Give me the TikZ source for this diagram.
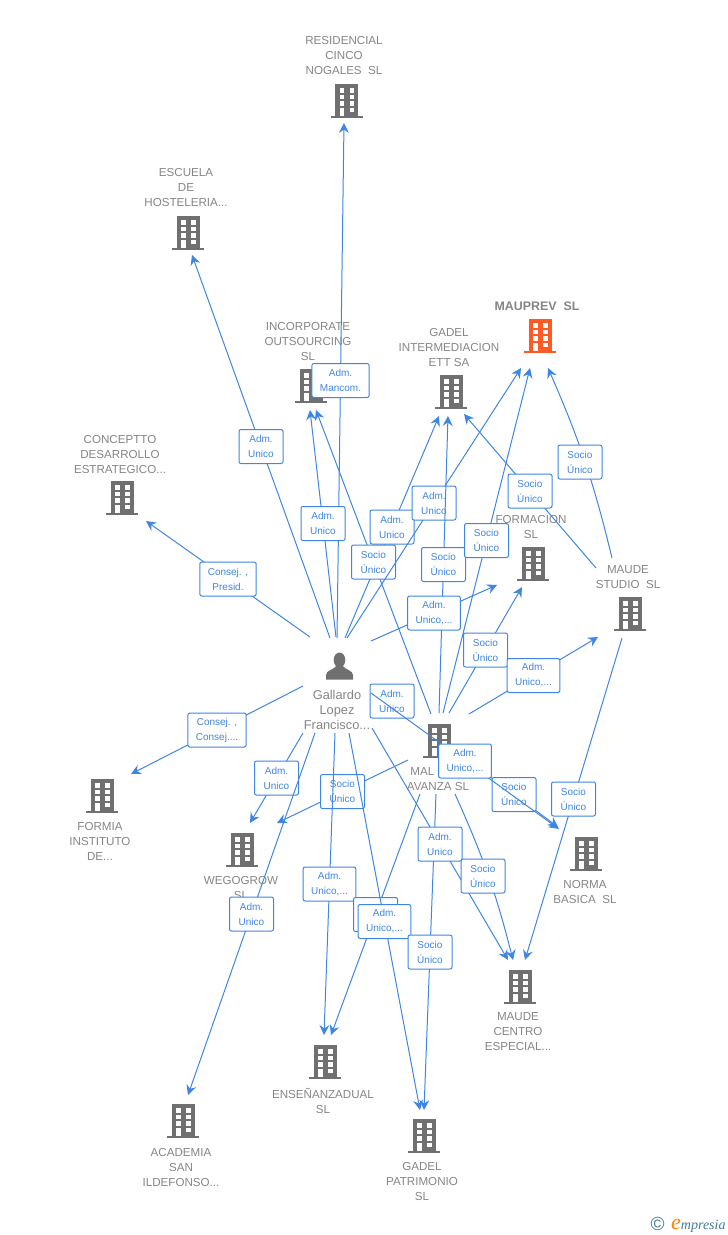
\documentclass[tikz,border=0pt]{standalone}
\usepackage{fontspec}
\setmainfont{Liberation Sans}
\newfontfamily\logofont{Liberation Serif}
\usetikzlibrary{arrows.meta}

\definecolor{linkblue}{HTML}{3F86E2}
\definecolor{bldgray}{HTML}{707070}
\definecolor{lblgray}{HTML}{858585}
\definecolor{mauorange}{HTML}{FF5A26}
\definecolor{logoblue}{HTML}{3E7C9C}

\tikzset{
  link/.style = {draw=linkblue, line width=1pt,
    -{Stealth[length=10pt,width=10pt,inset=3.5pt]}},
  plain link/.style = {draw=linkblue, line width=1pt},
  tag/.style = {draw=linkblue, fill=white, rounded corners=2pt, line width=1pt,
    text=linkblue, align=center, font=\fontsize{10}{15}\selectfont,
    minimum width=44pt, minimum height=34pt, inner xsep=8pt, inner ysep=0pt},
  lbl/.style = {text=lblgray, align=center, inner sep=0pt, yshift=-1pt,
    font=\fontsize{11.6}{15}\selectfont},
  pics/building/.default = bldgray,
  pics/building/.style = {code = {
    \fill[#1] (-11.5,-17) rectangle (11.5,14.5);
    \fill[#1] (-16,14.5) rectangle (16,17);
    \foreach \wy/\wh in {-13/4.5,-6.5/4.5,0/4.5,6.5/4.5} {
      \fill[white] (-7,\wy) rectangle (-2.5,\wy+\wh);
      \fill[white] (3,\wy) rectangle (7.5,\wy+\wh);
    }
    \fill[white] (-7,9) rectangle (-2.5,14.5);
  }},
  pics/person/.style = {code = {
    \fill[bldgray] (-0.5,-6) ellipse (5.8 and 7.5);
    \fill[bldgray] (-14,13.5) -- (-14,9) .. controls (-14,4) and (-6,4) .. (-4,0)
      -- (3,0) .. controls (5,4) and (13,4) .. (13,9) -- (13,13.5) -- cycle;
  }},
}

\begin{document}
\begin{tikzpicture}[x=1pt,y=-1pt]
  \useasboundingbox (0,0) rectangle (728,1235);

  % company names
  \node[lbl] (residencial) at (344,55) {RESIDENCIAL\\CINCO\\NOGALES\ \ SL};
  \node[lbl] (escuela) at (186,187) {ESCUELA\\DE\\HOSTELERIA...};
  \node[lbl] (incorporate) at (308,340) {INCORPORATE\\OUTSOURCING\\SL};
  \node[lbl] (gadelint) at (449,346) {GADEL\\INTERMEDIACION\\ETT SA};
  \node[lbl,font=\fontsize{12.4}{15}\selectfont\bfseries] (mauprev) at (537,305) {MAUPREV\ \ SL};
  \node[lbl] (conceptto) at (120,453) {CONCEPTTO\\DESARROLLO\\ESTRATEGICO...};
  \node[lbl] (formacion) at (531,525.5) {FORMACION\\SL};
  \node[lbl] (studio) at (628,576.5) {MAUDE\\STUDIO\ \ SL};
  \node[lbl] (avanza) at (438,777.5) {MAL\phantom{GRAT}\\AVANZA SL};
  \node[lbl] (formia) at (100,840) {FORMIA\\INSTITUTO\\DE...};
  \node[lbl] (wegogrow) at (241,886.5) {WEGOGROW\\SL};
  \node[lbl] (norma) at (585,890.5) {NORMA\\BASICA\ \ SL};
  \node[lbl] (centro) at (518,1031) {MAUDE\\CENTRO\\ESPECIAL...};
  \node[lbl] (ensenanza) at (323,1099.5) {ENSEÑANZADUAL\\SL};
  \node[lbl] (academia) at (181,1166) {ACADEMIA\\SAN\\ILDEFONSO...};
  \node[lbl] (patrimonio) at (422,1180) {GADEL\\PATRIMONIO\\SL};
  \node[lbl,font=\fontsize{12.8}{15}\selectfont] (gallardo) at (337,709) {Gallardo\\Lopez\\Francisco...};

  % icons
  \pic (icoresidencial) at (346.5,101) {building};
  \pic (icoescuela) at (188,233) {building};
  \pic (icoincorporate) at (311,386) {building};
  \pic (icogadelint) at (451,392) {building};
  \pic (icomauprev) at (540,336) {building=mauorange};
  \pic (icoconceptto) at (122,498) {building};
  \pic (icoformacion) at (533,564) {building};
  \pic (icostudio) at (630,614) {building};
  \pic (icoavanza) at (439,741) {building};
  \pic (icoformia) at (102,796) {building};
  \pic (icowegogrow) at (242,850) {building};
  \pic (iconorma) at (586,854) {building};
  \pic (icocentro) at (520,987) {building};
  \pic (icoensenanza) at (325,1062) {building};
  \pic (icoacademia) at (183,1121) {building};
  \pic (icopatrimonio) at (424,1136) {building};
  \pic (icogallardo) at (340,666) {person};

  % free ends of the links
  \coordinate (pRes) at (337,638);  \coordinate (tRes) at (344,123);
  \coordinate (pEsc) at (330,638);  \coordinate (tEsc) at (192,255);
  \coordinate (pInc) at (336,637);  \coordinate (tInc) at (310,410);
  \coordinate (mInc) at (431,714);  \coordinate (tIncB) at (316,410);
  \coordinate (pGad) at (345,638);  \coordinate (tGad) at (439,416);
  \coordinate (mGad) at (439,713);  \coordinate (tGadB) at (448,416);
  \coordinate (sGad) at (596,568);  \coordinate (tGadC) at (464,414);
  \coordinate (pMau) at (347,638);  \coordinate (tMau) at (521,368);
  \coordinate (mMau) at (443,713);  \coordinate (tMauB) at (530,368);
  \coordinate (sMau) at (612,558);  \coordinate (tMauC) at (548,368);
  \coordinate (pFor) at (371,641);  \coordinate (tFor) at (497,585);
  \coordinate (mFor) at (449,713);  \coordinate (tForB) at (522,587);
  \coordinate (mStu) at (469,714);  \coordinate (tStu) at (598,637);
  \coordinate (pCon) at (310,637);  \coordinate (tCon) at (146,521);
  \coordinate (pFrm) at (303,686);  \coordinate (tFrm) at (131,774);
  \coordinate (pWeg) at (303,733);  \coordinate (tWeg) at (250,823);
  \coordinate (mWeg) at (408,760);  \coordinate (tWegB) at (277,823);
  \coordinate (pAca) at (315,733);  \coordinate (tAca) at (188,1095);
  \coordinate (pEns) at (335,733);  \coordinate (tEns) at (324,1035);
  \coordinate (mEns) at (420,794);  \coordinate (tEnsB) at (331,1035);
  \coordinate (pPat) at (349,733);  \coordinate (tPat) at (420,1110);
  \coordinate (mPat) at (436,794);  \coordinate (tPatB) at (424,1110);
  \coordinate (pCen) at (372,728);  \coordinate (tCen) at (508,960);
  \coordinate (mCen) at (455,794);  \coordinate (tCenB) at (513,960);
  \coordinate (sCen) at (622,638);  \coordinate (tCenC) at (525,960);
  \coordinate (pNor) at (371,693);  \coordinate (tMal) at (413,709);
  \coordinate (mNor) at (470,762);  \coordinate (tNor) at (558,827);
  \coordinate (tNorB) at (559,829);

  % links, each with its tag at half way
  \draw[link] (pRes) -- node[tag] (admmancom) {Adm.\\Mancom.} (tRes);
  \draw[link] (pEsc) -- node[tag] (admescuela) {Adm.\\Unico} (tEsc);
  \draw[link] (pInc) -- node[tag] (adminc) {Adm.\\Unico} (tInc);
  \draw[link] (pGad) -- node[tag] (admgad) {Adm.\\Unico} (tGad);
  \draw[link] (mInc) -- node[tag] (socioinc) {Socio\\Único} (tIncB);
  \draw[link] (pMau) -- node[tag] (admmau) {Adm.\\Unico} (tMau);
  \draw[link] (mGad) -- node[tag] (sociogad) {Socio\\Único} (tGadB);
  \draw[link] (sGad) -- node[tag] (studiogad) {Socio\\Único} (tGadC);
  \draw[link] (mMau) -- node[tag] (sociomau) {Socio\\Único} (tMauB);
  \draw[link] (sMau) to[bend right=5] (tMauC);
  \node[tag] (studiomau) at (580,462) {Socio\\Único};
  \draw[link] (pFor) -- node[tag] (admfor) {Adm.\\Unico,...} (tFor);
  \draw[link] (mFor) -- node[tag] (sociofor) {Socio\\Único} (tForB);
  \draw[link] (mStu) -- node[tag] (admstudio) {Adm.\\Unico,...} (tStu);
  \draw[link] (pCon) -- node[tag] (consejpresid) {Consej. ,\\Presid.} (tCon);
  \draw[link] (pFrm) -- node[tag] (consejconsej) {Consej. ,\\Consej....} (tFrm);
  \draw[link] (pWeg) -- node[tag] (admweg) {Adm.\\Unico} (tWeg);
  \draw[link] (mWeg) -- node[tag] (socioweg) {Socio\\Único} (tWegB);
  \draw[link] (pEns) -- node[tag] (admens) {Adm.\\Unico,...} (tEns);
  \draw[link] (pAca) -- node[tag] (admaca) {Adm.\\Unico} (tAca);
  \draw[link] (mEns) -- node[tag] (hiddentag) {} (tEnsB);
  \draw[link] (pPat) -- node[tag] (admpat) {Adm.\\Unico,...} (tPat);
  \draw[link] (mPat) -- node[tag] (sociopat) {Socio\\Único} (tPatB);
  \draw[link] (pCen) -- node[tag] (admcen) {Adm.\\Unico} (tCen);
  \draw[link] (mCen) to[bend left=5] (tCenB);
  \node[tag] (sociocen) at (483,876) {Socio\\Único};
  \draw[link] (sCen) -- node[tag] (studiocen) {Socio\\Único} (tCenC);

  % these two run over the tags below them
  \draw[plain link] (pNor) -- node[tag] (admmal) {Adm.\\Unico} (tMal);
  \draw[link] (mNor) -- node[tag] (socionor) {Socio\\Único} (tNor);
  \draw[link] (pNor) -- node[tag] (admnor) {Adm.\\Unico,...} (tNorB);

  % logo
  \node[inner sep=0pt,text=logoblue,font=\fontsize{19}{19}\selectfont] (logoc) at (657.5,1224) {©};
  \node[inner sep=0pt,anchor=base west,font=\logofont\fontsize{14}{14}\selectfont\itshape,text=logoblue] (logot)
    at (671,1229) {{\fontsize{22}{22}\selectfont\color{orange}e}mpresia};
\end{tikzpicture}
\end{document}
